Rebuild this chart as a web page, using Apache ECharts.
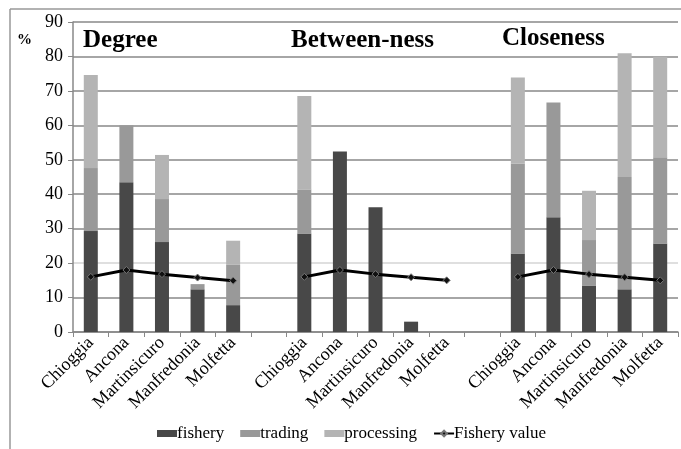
<!DOCTYPE html>
<html>
<head>
<meta charset="utf-8">
<script src="https://cdn.jsdelivr.net/npm/echarts@6/dist/echarts.min.js"></script>
<style>html,body{margin:0;padding:0;background:#fff}#c{width:681px;height:449px}</style>
</head>
<body>
<div id="c"></div>
<script>
var categories = ['Chioggia','Ancona','Martinsicuro','Manfredonia','Molfetta','',
                  'Chioggia','Ancona','Martinsicuro','Manfredonia','Molfetta','',
                  'Chioggia','Ancona','Martinsicuro','Manfredonia','Molfetta'];
var fishery    = [29.3, 43.5, 26.1, 12.4, 7.8, null, 28.6, 52.4, 36.2, 3.0, 0, null, 22.8, 33.3, 13.5, 12.4, 25.7];
var trading    = [18.3, 16.5, 12.5, 1.5, 11.7, null, 12.8, 0, 0, 0, 0, null, 26.1, 33.3, 13.2, 32.6, 25.0];
var processing = [27.0, 0, 12.8, 0, 7.0, null, 27.1, 0, 0, 0, 0, null, 25.0, 0, 14.3, 35.9, 29.2];
var fisheryValue = [16.0, 18.0, 16.8, 15.8, 14.9, null, 16.0, 18.0, 16.8, 15.9, 15.0, null, 16.0, 18.0, 16.8, 15.9, 15.0];
var yTicks = [0, 10, 20, 30, 40, 50, 60, 70, 80, 90];
var groupTitles = ['Degree', 'Between-ness', 'Closeness'];

var serif = '"Liberation Serif", "DejaVu Serif", serif';
var chart = echarts.init(document.getElementById('c'));
chart.setOption({
  animation: false,
  grid: {left: 73, right: 3, top: 22, bottom: 117, containLabel: false},
  legend: {
    bottom: 2, left: 152, itemWidth: 20, itemHeight: 7, itemGap: 16,
    textStyle: {fontFamily: serif, fontSize: 17, color: '#000', padding: [0,0,0,-5]},
    data: [
      {name: 'fishery', icon: 'rect'},
      {name: 'trading', icon: 'rect'},
      {name: 'processing', icon: 'rect'},
      {name: 'Fishery value'}
    ]
  },
  xAxis: {
    type: 'category', data: categories,
    axisLine: {lineStyle: {color: '#888', width: 1.5}},
    axisTick: {show: true, length: 5, interval: 0, lineStyle: {color: '#888'}},
    axisLabel: {interval: 0, rotate: 45, margin: 8, fontFamily: serif, fontSize: 18, color: '#000'}
  },
  yAxis: {
    type: 'value', min: yTicks[0], max: yTicks[yTicks.length - 1], interval: 10,
    axisLine: {show: true, lineStyle: {color: '#888', width: 1.5}},
    axisTick: {show: true, length: 5, lineStyle: {color: '#888'}},
    axisLabel: {fontFamily: serif, fontSize: 18, color: '#000', margin: 10},
    splitLine: {lineStyle: {color: ['#888','#888','#d4d4d4','#888','#888','#888','#888','#888','#888','#888'], width: 1.5}}
  },
  series: [
    {name: 'fishery', type: 'bar', stack: 's', barWidth: 14, data: fishery, itemStyle: {color: '#484848'}},
    {name: 'trading', type: 'bar', stack: 's', barWidth: 14, data: trading, itemStyle: {color: '#999999'}},
    {name: 'processing', type: 'bar', stack: 's', barWidth: 14, data: processing, itemStyle: {color: '#b4b4b4'}},
    {name: 'Fishery value', type: 'line', data: fisheryValue, connectNulls: false,
     symbol: 'diamond', symbolSize: 7, showAllSymbol: true,
     lineStyle: {color: '#000', width: 3},
     itemStyle: {color: '#111', borderColor: '#777', borderWidth: 1}, z: 5}
  ],
  graphic: [
    {type: 'line', shape: {x1: 10, y1: 9, x2: 10, y2: 449}, style: {stroke: '#999', lineWidth: 1.5}},
    {type: 'line', shape: {x1: 10, y1: 9, x2: 681, y2: 9}, style: {stroke: '#999', lineWidth: 1.5}},
    {type: 'text', left: 17, top: 33, style: {text: '%', font: 'bold 15px ' + serif, fill: '#000'}},
    {type: 'text', left: 83, top: 28, style: {text: groupTitles[0], font: 'bold 25px ' + serif, fill: '#000'}},
    {type: 'text', left: 291, top: 28, style: {text: groupTitles[1], font: 'bold 25px ' + serif, fill: '#000'}},
    {type: 'text', left: 502, top: 26, style: {text: groupTitles[2], font: 'bold 25px ' + serif, fill: '#000'}}
  ]
});
</script>
</body>
</html>
